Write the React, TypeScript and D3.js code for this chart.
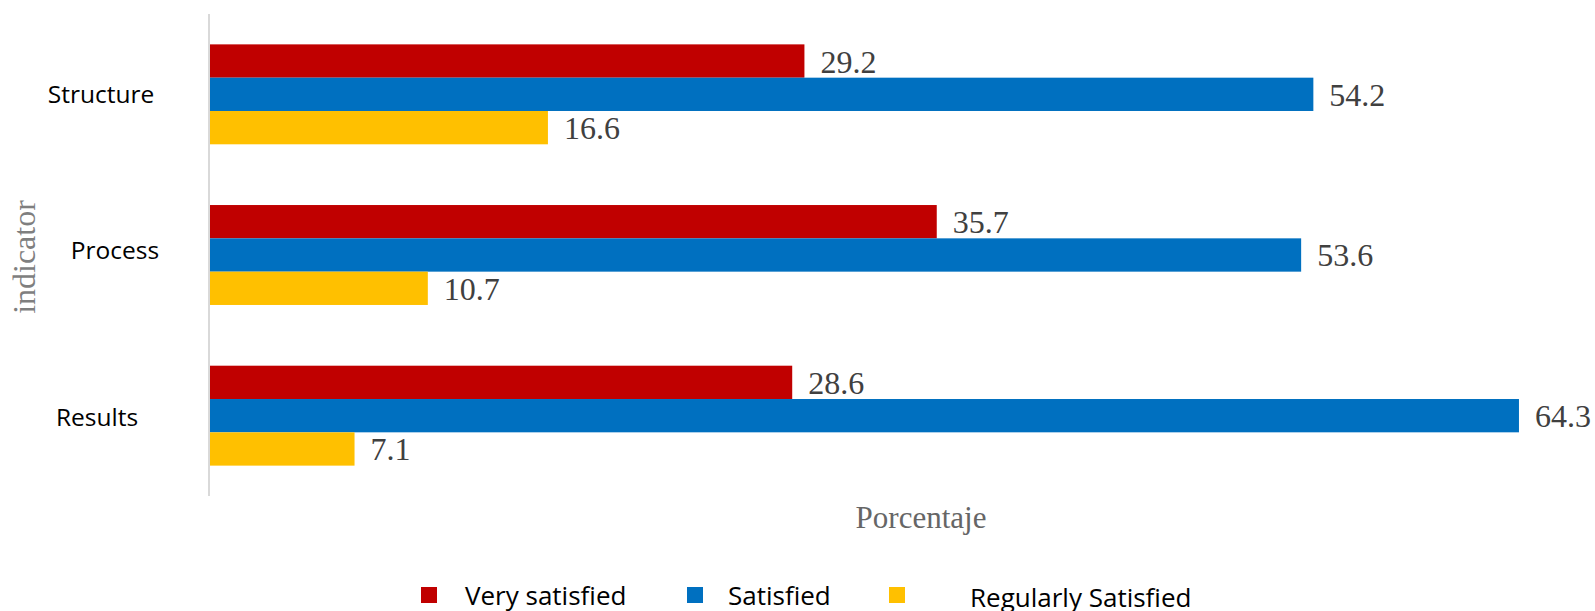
import React, { useEffect, useRef } from 'react';
import * as d3 from 'd3';

const categories = ['Structure', 'Process', 'Results'];
const seriesNames = ['Very satisfied', 'Satisfied', 'Regularly Satisfied'];
const verySatisfied = [29.2, 35.7, 28.6];
const satisfied = [54.2, 53.6, 64.3];
const regularlySatisfied = [16.6, 10.7, 7.1];
const colors = ['#C00000', '#0070C0', '#FFC000'];

export default function App() {
  const chartRef = useRef<SVGSVGElement>(null);

  useEffect(() => {
    const svg = d3.select(chartRef.current);
    svg.selectAll('*').remove();

    const width = 1595;
    const height = 611;
    const values = [verySatisfied, satisfied, regularlySatisfied];

    // scales
    const x = d3.scaleLinear().domain([0, 70]).range([210, 1635]);
    const y = d3.scaleBand()
      .domain(categories)
      .range([14, 496])
      .paddingInner(0.378)
      .paddingOuter(0.189);
    const ySub = d3.scaleBand()
      .domain(seriesNames)
      .range([0, y.bandwidth()]);

    svg.append('rect').attr('width', width).attr('height', height).attr('fill', '#fff');

    // bars + labels
    categories.forEach((cat, i) => {
      const g = svg.append('g').attr('transform', `translate(0,${y(cat)})`);
      seriesNames.forEach((s, j) => {
        const v = values[j][i];
        g.append('rect')
          .attr('x', x(0))
          .attr('y', ySub(s))
          .attr('width', x(v) - x(0))
          .attr('height', ySub.bandwidth())
          .attr('fill', colors[j]);
        g.append('text')
          .attr('x', x(v) + 16)
          .attr('y', ySub(s)! + ySub.bandwidth() / 2 + 11.5)
          .attr('font-family', '"Liberation Serif", "Times New Roman", serif')
          .attr('font-size', 32)
          .attr('fill', '#404040')
          .text(v.toFixed(1));
      });
    });

    // vertical axis line
    svg.append('line')
      .attr('x1', 209).attr('x2', 209)
      .attr('y1', 14).attr('y2', 496)
      .attr('stroke', '#d9d9d9')
      .attr('stroke-width', 2);

    // category labels (slightly uneven placement, like the original)
    const labelX = [101, 115, 97];
    const labelDy = [8.5, 3.5, 10.5];
    svg.append('g')
      .selectAll('text')
      .data(categories)
      .join('text')
      .attr('x', (d, i) => labelX[i])
      .attr('y', (d, i) => y(d)! + y.bandwidth() / 2 + labelDy[i])
      .attr('text-anchor', 'middle')
      .attr('font-family', '"Open Sans", sans-serif')
      .attr('font-size', 24.5)
      .attr('fill', '#000')
      .text(d => d);

    // axis titles
    svg.append('text')
      .attr('transform', 'translate(35,257) rotate(-90)')
      .attr('text-anchor', 'middle')
      .attr('font-family', '"Liberation Serif", serif')
      .attr('font-size', 32)
      .attr('fill', '#7f7f7f')
      .text('indicator');

    svg.append('text')
      .attr('x', 921)
      .attr('y', 528)
      .attr('text-anchor', 'middle')
      .attr('font-family', '"Liberation Serif", serif')
      .attr('font-size', 31)
      .attr('fill', '#666')
      .text('Porcentaje');

    // legend
    const legendX = [421, 687, 889];
    const legendTextX = [465, 728, 970];
    const legendBase = [605, 605, 607];
    const legend = svg.append('g');
    seriesNames.forEach((s, j) => {
      legend.append('rect')
        .attr('x', legendX[j])
        .attr('y', 587)
        .attr('width', 16)
        .attr('height', 16)
        .attr('fill', colors[j]);
      legend.append('text')
        .attr('x', legendTextX[j])
        .attr('y', legendBase[j])
        .attr('font-family', '"Open Sans", sans-serif')
        .attr('font-size', 26)
        .attr('fill', '#000')
        .text(s);
    });
  }, []);

  return (
    <svg
      ref={chartRef}
      width={1595}
      height={611}
      style={{ position: 'absolute', left: 0, top: 0, display: 'block' }}
    />
  );
}
